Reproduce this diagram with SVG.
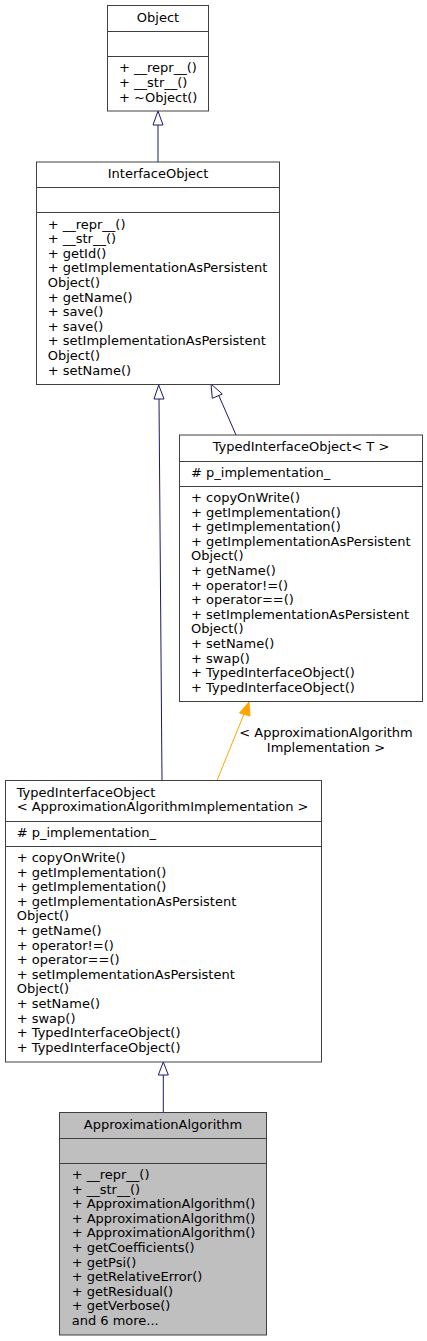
<svg xmlns="http://www.w3.org/2000/svg" width="427" height="1341" viewBox="0 0 427 1341">
<style>
text{font-family:"DejaVu Sans",sans-serif;font-size:13px;fill:#000}
.box{fill:#fff;stroke:#404040;stroke-width:1}
.focus{fill:#bfbfbf;stroke:#404040;stroke-width:1}
.sep{stroke:#404040;stroke-width:1}
.mid{text-anchor:middle}
.inh{fill:none;stroke:#191970;stroke-width:1}
.inhhead{fill:#fff;stroke:#191970;stroke-width:1}
.tpl{fill:none;stroke:#ffa500;stroke-width:1}
.tplhead{fill:#ffa500;stroke:#ffa500;stroke-width:1}
</style>
<rect width="427" height="1341" fill="#fff"/>
<g id="connectors">
<path class="inh" d="M158,162 L158,125"/>
<polygon class="inhhead" points="158,111 153,125 163,125"/>
<path class="inh" d="M236,435 L219,396"/>
<polygon class="inhhead" points="211,384 212.3,398.3 222.3,394"/>
<path class="inh" d="M162,780.5 L159,399"/>
<polygon class="inhhead" points="158.7,385 154,399 164,399"/>
<path class="tpl" d="M217,780.5 L244,714"/>
<polygon class="tplhead" points="249,702 239.5,713 250,716"/>
<text class="mid" x="326" y="736.7">&lt; ApproximationAlgorithm</text>
<text class="mid" x="326" y="751.5">Implementation &gt;</text>
<path class="inh" d="M163.3,1112.5 L163.3,1075"/>
<polygon class="inhhead" points="163.3,1062 158.3,1075 168.3,1075"/>
</g>
<g id="node-Object">
<rect class="box" x="107.5" y="5.5" width="101" height="105.5"/>
<line class="sep" x1="107.5" y1="31.5" x2="208.5" y2="31.5"/>
<line class="sep" x1="107.5" y1="56.5" x2="208.5" y2="56.5"/>
<text class="mid" x="158" y="21.7">Object</text>
<text x="119" y="72.3">+ __repr__()<tspan x="119" dy="14.6">+ __str__()</tspan><tspan x="119" dy="14.6">+ ~Object()</tspan></text>
</g>
<g id="node-InterfaceObject">
<rect class="box" x="36.5" y="162" width="243" height="222.5"/>
<line class="sep" x1="36.5" y1="187.5" x2="279.5" y2="187.5"/>
<line class="sep" x1="36.5" y1="212.5" x2="279.5" y2="212.5"/>
<text class="mid" x="158" y="178.3">InterfaceObject</text>
<text x="47.7" y="228.5">+ __repr__()<tspan x="47.7" dy="14.6">+ __str__()</tspan><tspan x="47.7" dy="14.6">+ getId()</tspan><tspan x="47.7" dy="14.6">+ getImplementationAsPersistent</tspan><tspan x="47.7" dy="14.6">Object()</tspan><tspan x="47.7" dy="14.6">+ getName()</tspan><tspan x="47.7" dy="14.6">+ save()</tspan><tspan x="47.7" dy="14.6">+ save()</tspan><tspan x="47.7" dy="14.6">+ setImplementationAsPersistent</tspan><tspan x="47.7" dy="14.6">Object()</tspan><tspan x="47.7" dy="14.6">+ setName()</tspan></text>
</g>
<g id="node-TypedInterfaceObjectT">
<rect class="box" x="179.5" y="435" width="243" height="266.5"/>
<line class="sep" x1="179.5" y1="461.5" x2="422.5" y2="461.5"/>
<line class="sep" x1="179.5" y1="486.5" x2="422.5" y2="486.5"/>
<text class="mid" x="301" y="451">TypedInterfaceObject&lt; T &gt;</text>
<text x="191" y="477">#&#160;p_implementation_</text>
<text x="191" y="502">+ copyOnWrite()<tspan x="191" dy="14.6">+ getImplementation()</tspan><tspan x="191" dy="14.6">+ getImplementation()</tspan><tspan x="191" dy="14.6">+ getImplementationAsPersistent</tspan><tspan x="191" dy="14.6">Object()</tspan><tspan x="191" dy="14.6">+ getName()</tspan><tspan x="191" dy="14.6">+ operator!=()</tspan><tspan x="191" dy="14.6">+ operator==()</tspan><tspan x="191" dy="14.6">+ setImplementationAsPersistent</tspan><tspan x="191" dy="14.6">Object()</tspan><tspan x="191" dy="14.6">+ setName()</tspan><tspan x="191" dy="14.6">+ swap()</tspan><tspan x="191" dy="14.6">+ TypedInterfaceObject()</tspan><tspan x="191" dy="14.6">+ TypedInterfaceObject()</tspan></text>
</g>
<g id="node-TypedInterfaceObjectAAI">
<rect class="box" x="5.5" y="780.5" width="316" height="281.5"/>
<line class="sep" x1="5.5" y1="821.5" x2="321.5" y2="821.5"/>
<line class="sep" x1="5.5" y1="846.5" x2="321.5" y2="846.5"/>
<text x="16.7" y="796.7">TypedInterfaceObject<tspan x="16.7" dy="14.6">&lt; ApproximationAlgorithmImplementation &gt;</tspan></text>
<text x="16.7" y="837">#&#160;p_implementation_</text>
<text x="16.7" y="862">+ copyOnWrite()<tspan x="16.7" dy="14.6">+ getImplementation()</tspan><tspan x="16.7" dy="14.6">+ getImplementation()</tspan><tspan x="16.7" dy="14.6">+ getImplementationAsPersistent</tspan><tspan x="16.7" dy="14.6">Object()</tspan><tspan x="16.7" dy="14.6">+ getName()</tspan><tspan x="16.7" dy="14.6">+ operator!=()</tspan><tspan x="16.7" dy="14.6">+ operator==()</tspan><tspan x="16.7" dy="14.6">+ setImplementationAsPersistent</tspan><tspan x="16.7" dy="14.6">Object()</tspan><tspan x="16.7" dy="14.6">+ setName()</tspan><tspan x="16.7" dy="14.6">+ swap()</tspan><tspan x="16.7" dy="14.6">+ TypedInterfaceObject()</tspan><tspan x="16.7" dy="14.6">+ TypedInterfaceObject()</tspan></text>
</g>
<g id="node-ApproximationAlgorithm">
<rect class="focus" x="59.5" y="1112.5" width="207" height="222.5"/>
<line class="sep" x1="59.5" y1="1138.5" x2="266.5" y2="1138.5"/>
<line class="sep" x1="59.5" y1="1163.5" x2="266.5" y2="1163.5"/>
<text class="mid" x="163" y="1128.7">ApproximationAlgorithm</text>
<text x="71.7" y="1179">+ __repr__()<tspan x="71.7" dy="14.6">+ __str__()</tspan><tspan x="71.7" dy="14.6">+ ApproximationAlgorithm()</tspan><tspan x="71.7" dy="14.6">+ ApproximationAlgorithm()</tspan><tspan x="71.7" dy="14.6">+ ApproximationAlgorithm()</tspan><tspan x="71.7" dy="14.6">+ getCoefficients()</tspan><tspan x="71.7" dy="14.6">+ getPsi()</tspan><tspan x="71.7" dy="14.6">+ getRelativeError()</tspan><tspan x="71.7" dy="14.6">+ getResidual()</tspan><tspan x="71.7" dy="14.6">+ getVerbose()</tspan><tspan x="71.7" dy="14.6">and 6 more...</tspan></text>
</g>
</svg>
